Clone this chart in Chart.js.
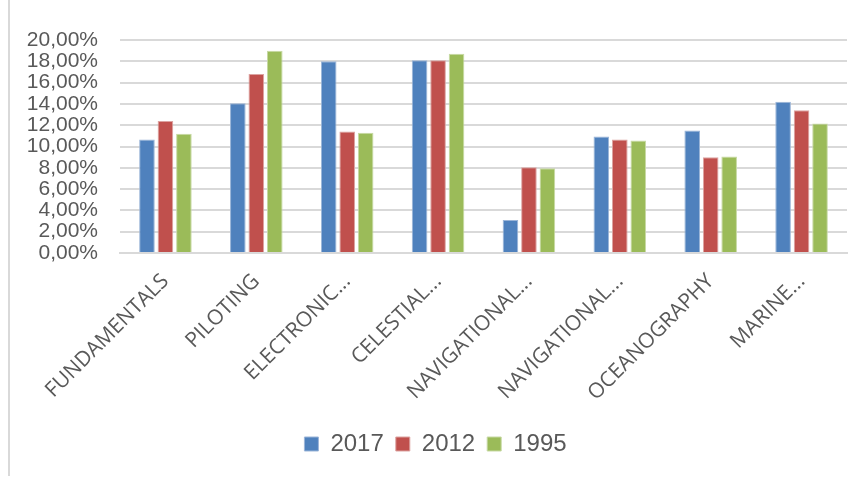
<!DOCTYPE html>
<html>
<head>
<meta charset="utf-8">
<script src="https://cdn.jsdelivr.net/npm/chart.js@4/dist/chart.umd.min.js"></script>
<style>
  html, body { margin: 0; padding: 0; background: #fff; }
  #wrap { position: relative; width: 863px; height: 478px; overflow: hidden; }
  #edge { position: absolute; left: 8px; top: 0; width: 2px; height: 476px; background: #d9d9d9; }
  canvas { position: absolute; left: 0; top: 0; }
</style>
</head>
<body>
<div id="wrap">
  <canvas id="chart" width="863" height="478"></canvas>
  <div id="edge"></div>
</div>
<script>
const categories = ['FUNDAMENTALS', 'PILOTING', 'ELECTRONIC...', 'CELESTIAL...',
  'NAVIGATIONAL...', 'NAVIGATIONAL...', 'OCEANOGRAPHY', 'MARINE...'];
const years = ['2017', '2012', '1995'];
const values2017 = [10.66, 14.07, 18.0, 18.1, 3.1, 10.95, 11.5, 14.2];
const values2012 = [12.4, 16.8, 11.4, 18.1, 8.05, 10.66, 9.0, 13.4];
const values1995 = [11.2, 19.0, 11.3, 18.7, 7.95, 10.57, 9.05, 12.15];
const colors = ['#4f81bd', '#c0504d', '#9bbb59'];
const edges = ['#9bb5d8', '#dca3a1', '#c7d9a4'];

const series = [values2017, values2012, values1995];
const grey = '#595959';

new Chart(document.querySelector('#chart').getContext('2d'), {
  type: 'bar',
  data: {
    labels: categories,
    datasets: series.map((data, i) => ({
      label: years[i],
      data,
      backgroundColor: colors[i],
      borderColor: edges[i],
      borderWidth: 1,
      categoryPercentage: 0.61,
      barPercentage: 0.845
    }))
  },
  options: {
    responsive: false,
    animation: false,
    layout: { padding: { left: 24, right: 16, top: 40, bottom: 12 } },
    plugins: {
      tooltip: { enabled: false },
      legend: {
        position: 'bottom',
        labels: {
          boxWidth: 14,
          boxHeight: 14,
          padding: 12,
          color: grey,
          font: { family: 'Liberation Sans', size: 24 }
        }
      }
    },
    scales: {
      x: {
        grid: { display: false },
        border: { color: '#d9d9d9', width: 2 },
        ticks: {
          color: grey,
          minRotation: 45,
          maxRotation: 45,
          autoSkip: false,
          padding: 8,
          font: { family: 'Open Sans', size: 21 }
        },
        afterFit(scale) { scale.height = 167; }
      },
      y: {
        min: 0,
        max: 20,
        grid: { color: '#d9d9d9', lineWidth: 2, drawTicks: false },
        border: { display: false },
        ticks: {
          stepSize: 2,
          autoSkip: false,
          padding: 22,
          color: grey,
          font: { family: 'Liberation Sans', size: 21 },
          callback: v => v.toFixed(2).replace('.', ',') + '%'
        },
        afterFit(scale) { scale.width = 96; }
      }
    }
  }
});
</script>
</body>
</html>
